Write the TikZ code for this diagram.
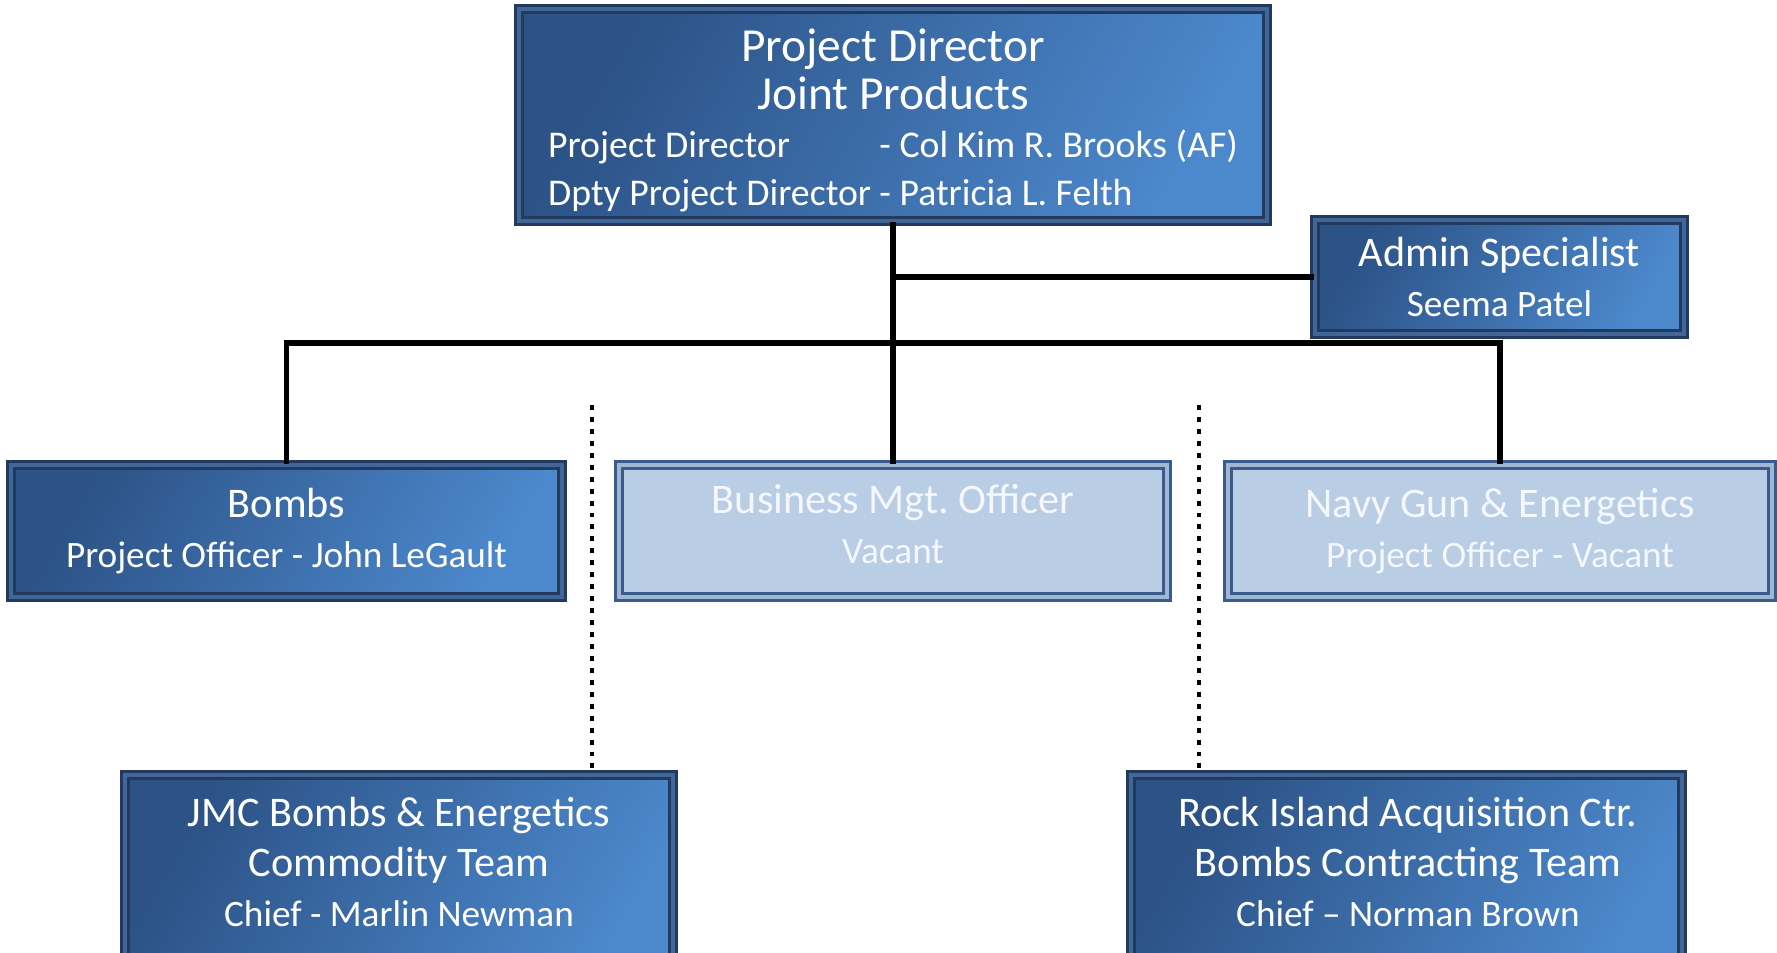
\documentclass[tikz,border=0pt]{standalone}
\usepackage{fontspec}
\setmainfont{Carlito}
\usetikzlibrary{positioning,calc}
\definecolor{boxA}{RGB}{44,82,134}
\definecolor{boxB}{RGB}{76,136,204}
\definecolor{edgeD}{RGB}{33,58,94}
\definecolor{bevelD}{RGB}{66,102,152}
\definecolor{fillL}{RGB}{185,205,229}
\definecolor{edgeL}{RGB}{56,92,144}
\definecolor{bevelL}{RGB}{162,182,208}
\definecolor{txtL}{RGB}{244,247,252}
\newcommand{\ttlfont}{\fontsize{13.5}{13.7}\selectfont}
\newcommand{\hdfont}{\fontsize{12}{14.2}\selectfont}
\newcommand{\sbfont}{\fontsize{10.6}{14.2}\selectfont}
\frenchspacing

\begin{document}
\begin{tikzpicture}[
    dkbox/.style={draw=edgeD,line width=.75pt,double=bevelD,double distance=1.1pt,left color=boxA,right color=boxB,shading angle=60,inner sep=0pt,text=white,align=center,font=\sbfont},
    ltbox/.style={draw=edgeL,line width=.75pt,double=bevelL,double distance=1.1pt,fill=fillL,inner sep=0pt,text=txtL,align=center,font=\sbfont},
    link/.style={line width=1.5pt},
    dotlink/.style={line width=1.4pt,dash pattern=on 1.4pt off 2pt}]
\useasboundingbox (0,0) rectangle (17.77,-9.53);
\clip (0,0) rectangle (17.77,-9.53);

\node[dkbox,minimum width=7.48cm,minimum height=2.12cm](pd) at (8.93,-1.15){\fontsize{10.75}{13.7}\selectfont
  \begin{tabular}{@{}l@{\hspace{.22em}}l@{}}
  \multicolumn{2}{c}{\ttlfont\rule{0pt}{14.6pt}Project Director}\\
  \multicolumn{2}{c}{\ttlfont Joint Products}\\
  Project Director & - Col Kim R. Brooks (AF)\\
  Dpty Project Director & - Patricia L. Felth
  \end{tabular}};
\node[dkbox,minimum width=3.69cm,minimum height=1.14cm](admin) at (14.995,-2.77){{\hdfont Admin Specialist}\\Seema Patel};

\node[dkbox,minimum width=5.51cm,minimum height=1.32cm](bombs) at (2.865,-5.31){{\hdfont Bombs}\\Project Officer - John LeGault};
\node[ltbox,minimum width=5.48cm,minimum height=1.32cm](bmo) at (8.93,-5.31){{\hdfont Business Mgt. Officer}\\Vacant\strut};
\node[ltbox,minimum width=5.44cm,minimum height=1.32cm](navy) at (15.0,-5.31){{\hdfont Navy Gun \& Energetics}\\Project Officer - Vacant};

\node[dkbox,minimum width=5.48cm,minimum height=2.15cm](jmc) at (3.99,-8.825){};
\node[dkbox,minimum width=5.51cm,minimum height=2.15cm](ria) at (14.065,-8.825){};
\node[text=white,align=center,font=\sbfont](jmctx) at (3.99,-8.62){{\hdfont JMC Bombs \& Energetics}\\{\hdfont Commodity Team}\\Chief - Marlin Newman};
\node[text=white,align=center,font=\sbfont](riatx) at (14.08,-8.62){{\hdfont Rock Island Acquisition Ctr.}\\{\hdfont Bombs Contracting Team}\\Chief – Norman Brown};

\coordinate (bus) at (8.93,-3.43);
\draw[link](pd.south)--(bmo.north);
\draw[link](pd.south |- admin.west)--(admin.west);
\draw[link](bombs.north) |- (bus) -| (navy.north);

\coordinate (d1) at (5.92,-4.05);
\coordinate (d2) at (11.99,-4.05);
\draw[dotlink](d1)--(d1 |- jmc.north);
\draw[dotlink](d2)--(d2 |- ria.north);

\end{tikzpicture}
\end{document}
